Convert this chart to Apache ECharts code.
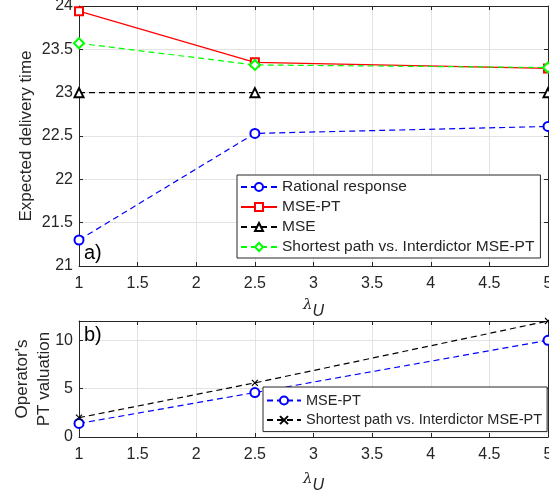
<!DOCTYPE html>
<html><head><meta charset="utf-8">
<script src="https://cdn.jsdelivr.net/npm/echarts@6/dist/echarts.min.js"></script>
<style>html,body{margin:0;padding:0;background:#fff}#c{width:549px;height:491px}</style>
</head><body><div id="c"></div>
<script>
// ---- data ----
const lambdaU = [1, 2.5, 5];
const rationalResponse = [21.30, 22.53, 22.61];
const msePT = [23.94, 23.35, 23.28];
const mse = [23.00, 23.00, 23.00];
const shortestPathPT = [23.57, 23.32, 23.29];
const pvMsePT = [1.4, 4.6, 10.0];
const pvShortestPath = [2.0, 5.6, 12.0];
const topNames = ['Rational response', 'MSE-PT', 'MSE', 'Shortest path vs. Interdictor MSE-PT'];
const botNames = ['MSE-PT', 'Shortest path vs. Interdictor MSE-PT'];
const BOT_SUFFIX = '\u200b';

const pts = (ys) => lambdaU.map((x, i) => [x, ys[i]]);
const FONT = 'Liberation Sans, Arial, Helvetica, sans-serif';
const TXT = '#262626';
const GRIDC = '#e3e3e3';

function xAxisMain(gi) {
  return {
    type: 'value', gridIndex: gi, min: 1, max: 5, interval: 0.5, position: 'bottom',
    axisLine: {show: true, onZero: false, lineStyle: {color: TXT, width: 1}},
    axisTick: {show: true, inside: true, length: 4, lineStyle: {color: TXT}},
    axisLabel: {color: TXT, fontSize: 16, fontFamily: FONT, margin: 10},
    splitLine: {show: true, lineStyle: {color: GRIDC, width: 1}},
    name: '{l|λ}{s|U}', nameLocation: 'middle', nameGap: gi === 0 ? 32 : 35, nameMoveOverlap: false,
    nameTextStyle: {color: TXT, fontFamily: FONT, rich: {
      l: {fontSize: 15, color: TXT, fontFamily: 'DejaVu Serif', fontStyle: 'italic', verticalAlign: 'top', lineHeight: 22},
      s: {fontSize: 16, color: TXT, fontFamily: FONT, fontStyle: 'italic', verticalAlign: 'bottom', lineHeight: 22, padding: [9, 0, 0, 0]}
    }}
  };
}
function xAxisTop(gi) {
  return {
    type: 'value', gridIndex: gi, min: 1, max: 5, interval: 0.5, position: 'top',
    axisLine: {show: true, onZero: false, lineStyle: {color: TXT, width: 1}},
    axisTick: {show: true, inside: true, length: 4, lineStyle: {color: TXT}},
    axisLabel: {show: false}, splitLine: {show: false}
  };
}
function yAxisMain(gi, min, max, interval, name, gap) {
  return {
    type: 'value', gridIndex: gi, min: min, max: max, interval: interval, position: 'left',
    axisLine: {show: true, onZero: false, lineStyle: {color: TXT, width: 1}},
    axisTick: {show: true, inside: true, length: 4, lineStyle: {color: TXT}},
    axisLabel: {color: TXT, fontSize: 16, fontFamily: FONT, margin: 6,
      formatter: (v) => (gi === 1 && v > 10) ? '' : String(v)},
    splitLine: {show: true, lineStyle: {color: GRIDC, width: 1}},
    name: name, nameLocation: 'middle', nameGap: gap, nameMoveOverlap: false,
    nameTextStyle: {color: TXT, fontSize: 17, fontFamily: FONT, lineHeight: 22}
  };
}
function yAxisRight(gi, min, max, interval) {
  return {
    type: 'value', gridIndex: gi, min: min, max: max, interval: interval, position: 'right',
    axisLine: {show: true, onZero: false, lineStyle: {color: TXT, width: 1}},
    axisTick: {show: true, inside: true, length: 4, lineStyle: {color: TXT}},
    axisLabel: {show: false}, splitLine: {show: false}
  };
}

function lineSeries(name, data, color, symbol, dash, xi, yi, size) {
  return {
    type: 'line', name: name, data: data, xAxisIndex: xi, yAxisIndex: yi,
    symbol: symbol, symbolSize: size || 9, showAllSymbol: true,
    itemStyle: {color: color, borderColor: color, borderWidth: 1.2},
    lineStyle: {color: color, width: 1.2, type: dash ? [6, 4] : 'solid'},
    clip: false, z: 3
  };
}

const chart = echarts.init(document.getElementById('c'), null, {renderer: 'canvas'});
chart.setOption({
  animation: false,
  backgroundColor: '#fff',
  grid: [
    {left: 79, right: 1, top: 6, height: 260, show: false, containLabel: false, outerBoundsMode: 'none'},
    {left: 79, right: 1, top: 321, height: 116, show: false, containLabel: false, outerBoundsMode: 'none'}
  ],
  xAxis: [xAxisMain(0), xAxisMain(1), xAxisTop(0), xAxisTop(1)],
  yAxis: [
    yAxisMain(0, 21, 24, 0.5, 'Expected delivery time', 42),
    yAxisMain(1, 0, 12, 5, "Operator's\nPT valuation", 24),
    yAxisRight(0, 21, 24, 0.5),
    yAxisRight(1, 0, 12, 5)
  ],
  legend: [
    {
      orient: 'vertical', left: 237, top: 175,
      data: topNames,
      itemWidth: 36, itemHeight: 10, itemGap: 4,
      padding: [4, 6, 3, 3],
      borderColor: TXT, borderWidth: 1, backgroundColor: '#fff',
      textStyle: {color: TXT, fontSize: 15.5, fontFamily: FONT, lineHeight: 16},
      selectedMode: false
    },
    {
      orient: 'vertical', left: 263, top: 387,
      data: botNames.map(n => n + BOT_SUFFIX),
      formatter: (n) => n.replace(BOT_SUFFIX, ''),
      itemWidth: 34, itemHeight: 10, itemGap: 4.6,
      padding: [6, 5, 4, 3],
      borderColor: TXT, borderWidth: 1, backgroundColor: '#fff',
      textStyle: {color: TXT, fontSize: 14.5, fontFamily: FONT, lineHeight: 14},
      selectedMode: false
    }
  ],
  graphic: [
    {type: 'text', left: 84, top: 243, z: 10, style: {text: 'a)', fontSize: 20, fontFamily: FONT, fill: '#000'}},
    {type: 'text', left: 84, top: 325, z: 10, style: {text: 'b)', fontSize: 20, fontFamily: FONT, fill: '#000'}}
  ],
  series: [
    lineSeries(topNames[0], pts(rationalResponse), '#0000ff', 'emptyCircle', true, 0, 0, 9),
    lineSeries(topNames[1], pts(msePT), '#ff0000', 'emptyRect', false, 0, 0, 8),
    lineSeries(topNames[2], pts(mse), '#000000', 'emptyTriangle', true, 0, 0, 9),
    lineSeries(topNames[3], pts(shortestPathPT), '#00ff00', 'emptyDiamond', true, 0, 0, 10),
    lineSeries(botNames[0] + BOT_SUFFIX, pts(pvMsePT), '#0000ff', 'emptyCircle', true, 1, 1, 9),
    lineSeries(botNames[1] + BOT_SUFFIX, pts(pvShortestPath), '#000000', 'path://M0,0L10,10M10,0L0,10', true, 1, 1, 6)
  ]
});
</script>
</body></html>
